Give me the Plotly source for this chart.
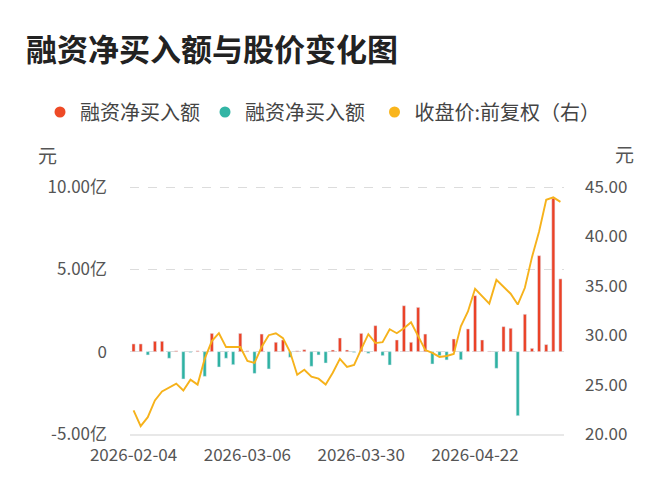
import plotly.graph_objects as go

dates = [
    "2026-02-04", "2026-02-05", "2026-02-06", "2026-02-09", "2026-02-10", "2026-02-11",
    "2026-02-12", "2026-02-13", "2026-02-24", "2026-02-25", "2026-02-26", "2026-02-27",
    "2026-03-02", "2026-03-03", "2026-03-04", "2026-03-05", "2026-03-06", "2026-03-09",
    "2026-03-10", "2026-03-11", "2026-03-12", "2026-03-13", "2026-03-16", "2026-03-17",
    "2026-03-18", "2026-03-19", "2026-03-20", "2026-03-23", "2026-03-24", "2026-03-25",
    "2026-03-26", "2026-03-27", "2026-03-30", "2026-03-31", "2026-04-01", "2026-04-02",
    "2026-04-03", "2026-04-07", "2026-04-08", "2026-04-09", "2026-04-10", "2026-04-13",
    "2026-04-14", "2026-04-15", "2026-04-16", "2026-04-17", "2026-04-20", "2026-04-21",
    "2026-04-22", "2026-04-23", "2026-04-24", "2026-04-27", "2026-04-28", "2026-04-29",
    "2026-04-30", "2026-05-06", "2026-05-07", "2026-05-08", "2026-05-11", "2026-05-12",
    "2026-05-13",
]

# 融资净买入额 (亿元)
net_buy = [
    0.47, 0.47, -0.2, 0.63, 0.63, -0.4, 0.05, -1.66, -0.05, 0.05,
    -1.5, 1.11, -0.93, -0.4, -0.79, 1.11, 0.05, -1.32, 1.07, -1.05,
    0.57, 0.71, -0.34, 0.05, 0.12, -0.89, -0.2, -0.69, 0.1, 0.83,
    0.1, -0.05, 1.11, -0.1, 1.58, -0.24, -0.81, 0.71, 2.79, 0.57,
    2.69, 1.07, -0.75, -0.24, -0.5, 0.77, -0.49, 1.38, 3.4, 0.71,
    0.03, -1.01, 1.52, 1.42, -3.89, 2.27, 0.2, 5.83, 0.43, 9.32,
    4.42,
]

# 收盘价:前复权 (元)
close_price = [
    22.4, 20.8, 21.7, 23.4, 24.3, 24.7, 25.1, 24.4, 25.5, 25.0,
    27.6, 29.4, 30.2, 28.8, 28.8, 28.8, 27.4, 27.2, 28.8, 30.0,
    30.2, 29.7, 28.3, 26.0, 26.5, 25.8, 25.6, 25.0, 26.2, 27.6,
    26.8, 27.0, 28.6, 30.1, 29.2, 29.3, 30.6, 30.2, 30.7, 31.3,
    29.9, 28.5, 28.2, 27.8, 27.9, 28.1, 30.9, 32.4, 34.7, 33.9,
    33.2, 35.6, 34.9, 34.2, 33.1, 34.8, 37.9, 40.5, 43.7, 43.95,
    43.5,
]

x_tick_labels = ["2026-02-04", "2026-03-06", "2026-03-30", "2026-04-22"]
left_tick_vals = [-5, 0, 5, 10]
left_tick_text = ["-5.00亿", "0", "5.00亿", "10.00亿"]
right_tick_vals = [20, 25, 30, 35, 40, 45]

RED = "#eb4227"
TEAL = "#2eb2a2"
GOLD = "#f6b21b"
FONT = "Noto Sans CJK SC"

# the page body has an 8px default margin; size the figure to the remaining window
OFF = 8
W, H = 672 - OFF, 500 - OFF
PLOT_L, PLOT_R = 130, 564          # window px of plot area left/right
PLOT_B = 434                       # window px of the -5亿 / 20元 baseline
TOP_TICK_PX = 187                  # window px of the 10亿 / 45元 gridline
PLOT_T = 181                       # plot area top, a little above the top gridline
LEFT_MIN, LEFT_TOP = -5, 10
RIGHT_MIN, RIGHT_TOP = 20, 45
left_ppu = (PLOT_B - TOP_TICK_PX) / (LEFT_TOP - LEFT_MIN)
right_ppu = (PLOT_B - TOP_TICK_PX) / (RIGHT_TOP - RIGHT_MIN)
left_range = [LEFT_MIN, LEFT_MIN + (PLOT_B - PLOT_T) / left_ppu]
right_range = [RIGHT_MIN, RIGHT_MIN + (PLOT_B - PLOT_T) / right_ppu]


def px_x(px):
    return (px - OFF) / W


def px_y(py):
    return (PLOT_B - py) / (PLOT_B - PLOT_T)


pos_vals = [v if v >= 0 else None for v in net_buy]
neg_vals = [v if v < 0 else None for v in net_buy]

fig = go.Figure()
fig.add_trace(go.Bar(x=dates, y=pos_vals, marker_color=RED, width=0.44,
                     showlegend=False, name="融资净买入额"))
fig.add_trace(go.Bar(x=dates, y=neg_vals, marker_color=TEAL, width=0.44,
                     showlegend=False, name="融资净买入额"))
fig.add_trace(go.Scatter(x=dates, y=close_price, mode="lines", yaxis="y2",
                         line=dict(color=GOLD, width=1.9), showlegend=False,
                         name="收盘价:前复权（右）"))

# legend entries (circle markers)
for nm, col in [("融资净买入额", "#ee4a26"), ("融资净买入额 ", "#33b5a5"), ("收盘价:前复权（右）", "#f9b51c")]:
    fig.add_trace(go.Scatter(x=[None], y=[None], mode="markers", name=nm,
                             marker=dict(color=col, size=11, symbol="circle")))

fig.update_layout(
    width=W, height=H,
    margin=dict(l=0, r=0, t=PLOT_T - OFF, b=500 - PLOT_B, autoexpand=False),
    paper_bgcolor="white", plot_bgcolor="white",
    font=dict(family=FONT, color="#555555"),
    barmode="overlay",
    title=dict(text="融资净买入额与股价变化图", x=18 / W, xanchor="left",
               y=1 - 42 / H, yanchor="middle",
               font=dict(family=FONT, size=31, color="#222222", weight=700)),
    legend=dict(orientation="h", x=px_x(40), xanchor="left",
                y=px_y(112), yanchor="middle",
                font=dict(family=FONT, size=20, color="#444444"),
                itemwidth=30, tracegroupgap=0, bgcolor="rgba(0,0,0,0)"),
    xaxis=dict(type="category", categoryorder="array", categoryarray=dates,
               domain=[px_x(PLOT_L), px_x(PLOT_R)],
               range=[-0.5, len(dates) - 0.5],
               tickmode="array", tickvals=x_tick_labels, ticktext=x_tick_labels,
               showgrid=False, zeroline=False, ticks="",
               showline=True, linecolor="#e8e8e8", linewidth=1.5,
               tickfont=dict(family=FONT, size=17, color="#555555"),
               ticklabelstandoff=5),
    yaxis=dict(range=left_range, tickmode="array", tickvals=left_tick_vals,
               ticktext=left_tick_text, showgrid=True, gridcolor="#dcdcdc",
               griddash="dash", gridwidth=1, zeroline=False, ticks="",
               tickfont=dict(family=FONT, size=17, color="#555555"),
               ticklabelstandoff=22),
    yaxis2=dict(range=right_range, overlaying="y", side="right", tickmode="array",
                tickvals=right_tick_vals, tickformat=".2f", showgrid=False,
                zeroline=False, ticks="",
                tickfont=dict(family=FONT, size=17, color="#555555"),
                ticklabelstandoff=20),
    annotations=[
        dict(text="元", xref="paper", yref="paper", x=px_x(47), y=px_y(155),
             showarrow=False, xanchor="center", yanchor="middle",
             font=dict(family=FONT, size=19, color="#555555")),
        dict(text="元", xref="paper", yref="paper", x=px_x(624), y=px_y(153),
             showarrow=False, xanchor="center", yanchor="middle",
             font=dict(family=FONT, size=19, color="#555555")),
    ],
)

fig.write_html("out.html")
